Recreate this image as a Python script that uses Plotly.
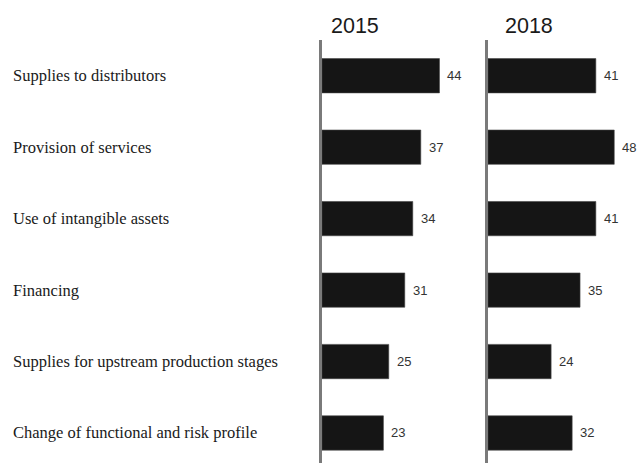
import plotly.graph_objects as go

categories = [
    "Supplies to distributors",
    "Provision of services",
    "Use of intangible assets",
    "Financing",
    "Supplies for upstream production stages",
    "Change of functional and risk profile",
]
values_2015 = [44, 37, 34, 31, 25, 23]
values_2018 = [41, 48, 41, 35, 24, 32]
years = ["2015", "2018"]

W, H = 640, 463
top_px = 40
ydom = [0, 1 - top_px / H]
yrange = [5.42, -0.5]

bar_color = "#151515"
line_color = "#7a7a7a"

fig = go.Figure()
for vals, xa, ya in [(values_2015, "x", "y"), (values_2018, "x2", "y2")]:
    fig.add_trace(go.Bar(
        y=categories, x=vals, orientation="h",
        xaxis=xa, yaxis=ya,
        marker=dict(color=bar_color, line=dict(color="#444", width=0.6)),
        width=0.48, showlegend=False, hoverinfo="skip",
    ))

x1d = [322 / W, 480 / W]
x2d = [488 / W, 640 / W]
axis_common = dict(showgrid=False, zeroline=False, showticklabels=False, ticks="")
fig.update_layout(
    width=W, height=H,
    margin=dict(l=0, r=0, t=0, b=0),
    paper_bgcolor="white", plot_bgcolor="white",
    xaxis=dict(domain=x1d, range=[0, (480 - 322) / 2.67], anchor="y", **axis_common),
    xaxis2=dict(domain=x2d, range=[0, (640 - 488) / 2.63], anchor="y2", **axis_common),
    yaxis=dict(domain=ydom, range=yrange, anchor="x", categoryorder="array",
               categoryarray=categories, showline=True, linecolor=line_color,
               linewidth=3, **axis_common),
    yaxis2=dict(domain=ydom, range=yrange, anchor="x2", categoryorder="array",
                categoryarray=categories, showline=True, linecolor=line_color,
                linewidth=3, **axis_common),
)

annotations = []
for c in categories:
    annotations.append(dict(
        x=11 / W, xref="paper", y=c, yref="y", xanchor="left", yanchor="middle",
        text=c, showarrow=False,
        font=dict(family="Liberation Serif, Times New Roman", size=16.5, color="#1a1a1a"),
    ))
for vals, xr, yr in [(values_2015, "x", "y"), (values_2018, "x2", "y2")]:
    for c, v in zip(categories, vals):
        annotations.append(dict(
            x=v, xref=xr, y=c, yref=yr, xanchor="left", yanchor="middle",
            xshift=6, text=str(v), showarrow=False,
            font=dict(family="Liberation Sans, Arial", size=13, color="#333"),
        ))
for yr, xd, sh in zip(years, [x1d, x2d], [7, 15]):
    annotations.append(dict(
        x=xd[0], xref="paper", xshift=sh, y=1 - 26 / H, yref="paper",
        xanchor="left", yanchor="middle", text=yr, showarrow=False,
        font=dict(family="Liberation Sans, Arial", size=21.5, color="#1a1a1a"),
    ))
fig.update_layout(annotations=annotations)

fig.write_html("out.html", config={"displayModeBar": False},
               post_script="document.body.style.margin='0px';document.body.style.padding='0px';")
